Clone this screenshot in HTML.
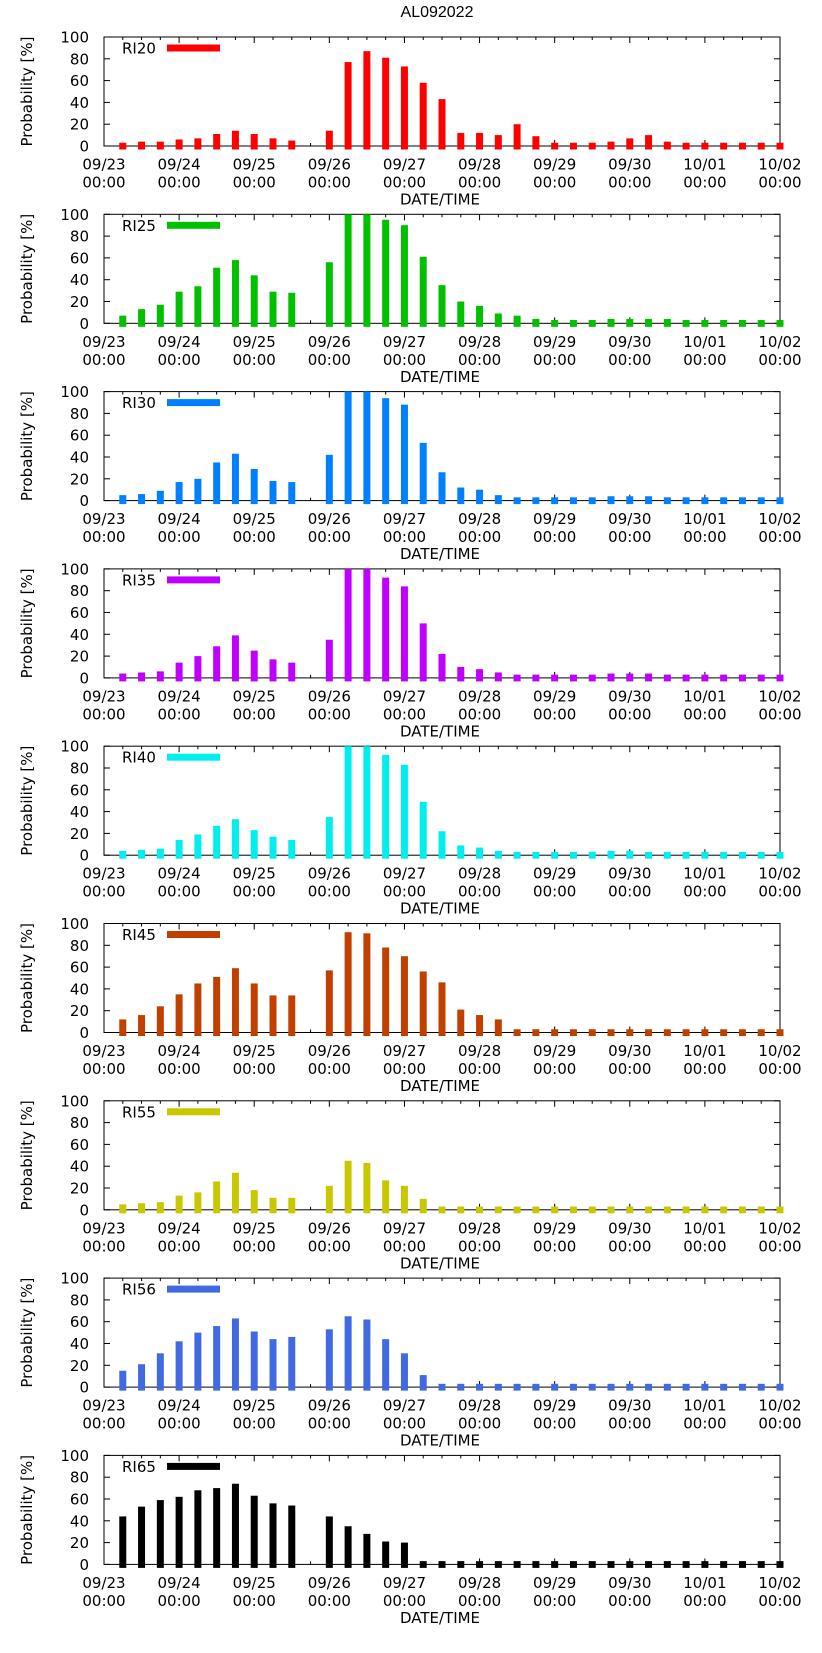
<!DOCTYPE html>
<html><head><meta charset="utf-8"><style>
html,body{margin:0;padding:0;background:#fff}
svg{display:block}
text{font-family:"DejaVu Sans","Liberation Sans",sans-serif;font-size:15px;fill:#000}
</style></head><body>
<svg id="chart" width="822" height="1653" viewBox="0 0 822 1653" xmlns="http://www.w3.org/2000/svg">
<text x="437" y="17" text-anchor="middle" style="font-family:'Liberation Sans',sans-serif;font-size:16px">AL092022</text>
</svg>
<script>
const seriesNames = ["RI20","RI25","RI30","RI35","RI40","RI45","RI55","RI56","RI65"];
const seriesColors = ["#ff0000","#00c000","#0080ff","#c000ff","#00eeee","#c04000","#c8c800","#4169e1","#000000"];
const hoursFromStart = [6,12,18,24,30,36,42,48,54,60,66,72,78,84,90,96,102,108,114,120,126,132,138,144,150,156,162,168,174,180,186,192,198,204,210,216];
const ri20 = [3,4,4,6,7,11,14,11,7,5,null,14,77,87,81,73,58,43,12,12,10,20,9,3,3,3,4,7,10,4,3,3,3,3,3,3];
const ri25 = [7,13,17,29,34,51,58,44,29,28,null,56,100,100,95,90,61,35,20,16,9,7,4,3,3,3,4,4,4,4,3,3,3,3,3,3];
const ri30 = [5,6,9,17,20,35,43,29,18,17,null,42,100,100,94,88,53,26,12,10,5,3,3,3,3,3,4,4,4,3,3,3,3,3,3,3];
const ri35 = [4,5,6,14,20,29,39,25,17,14,null,35,100,100,92,84,50,22,10,8,5,3,3,3,3,3,4,4,4,3,3,3,3,3,3,3];
const ri40 = [4,5,6,14,19,27,33,23,17,14,null,35,100,100,92,83,49,22,9,7,4,3,3,3,3,3,4,4,3,3,3,3,3,3,3,3];
const ri45 = [12,16,24,35,45,51,59,45,34,34,null,57,92,91,78,70,56,46,21,16,12,3,3,3,3,3,3,3,3,3,3,3,3,3,3,3];
const ri55 = [5,6,7,13,16,26,34,18,11,11,null,22,45,43,27,22,10,3,3,3,3,3,3,3,3,3,3,3,3,3,3,3,3,3,3,3];
const ri56 = [15,21,31,42,50,56,63,51,44,46,null,53,65,62,44,31,11,3,3,3,3,3,3,3,3,3,3,3,3,3,3,3,3,3,3,3];
const ri65 = [44,53,59,62,68,70,74,63,56,54,null,44,35,28,21,20,3,3,3,3,3,3,3,3,3,3,3,3,3,3,3,3,3,3,3,3];
const allSeries = [ri20,ri25,ri30,ri35,ri40,ri45,ri55,ri56,ri65];
const dayLabels = ["09/23","09/24","09/25","09/26","09/27","09/28","09/29","09/30","10/01","10/02"];
const yTicks = [0,20,40,60,80,100];

const NS="http://www.w3.org/2000/svg";
const svg=document.getElementById('chart');
const L=104,R=780,PH=109,TOP0=37,STEP=177.3,TOTALH=216;
function xs(h){return L+(R-L)*h/TOTALH;}
function mk(tag,attrs,parent,txt){const e=document.createElementNS(NS,tag);for(const k in attrs)e.setAttribute(k,attrs[k]);if(txt!==undefined)e.textContent=txt;(parent||svg).appendChild(e);return e;}

allSeries.forEach((vals,i)=>{
  const top=TOP0+STEP*i, bot=top+PH;
  const ys=v=>bot-PH*v/100;
  const g=mk('g',{});
  
  
  const f=mk('rect',{x:L,y:top,width:R-L,height:PH,fill:'none',stroke:'#000','stroke-width':1},g);
  
  
  yTicks.forEach(t=>{
    const y=ys(t);
    mk('line',{x1:L,x2:L+6,y1:y,y2:y,stroke:'#000'},g);
    mk('line',{x1:R,x2:R-6,y1:y,y2:y,stroke:'#000'},g);
    const tl=mk('text',{x:89,y:y+5.5,'text-anchor':'end'},g,String(t));
    
    
  });
  for(let h=0;h<=TOTALH;h+=6){
    const x=xs(h), len=(h%24===0)?6:3;
    mk('line',{x1:x,x2:x,y1:top,y2:top+len,stroke:'#000'},g);
    mk('line',{x1:x,x2:x,y1:bot,y2:bot-len,stroke:'#000'},g);
  }
  dayLabels.forEach((d,k)=>{
    const x=xs(k*24);
    const t1=mk('text',{x:x,y:bot+23.5,'text-anchor':'middle'},g,d);
    
    
    const t2=mk('text',{x:x,y:bot+41.5,'text-anchor':'middle'},g,'00:00');
    
    
  });
  const xt=mk('text',{x:440,y:bot+58.5,'text-anchor':'middle'},g,'DATE/TIME');
  
  
  const yt=mk('text',{x:0,y:0,'text-anchor':'middle',transform:'translate(32,'+(top+PH/2)+') rotate(-90)'},g,'Probability [%]');
  
  
  const lt=mk('text',{x:122,y:top+16.5},g,seriesNames[i]);
  
  
  const ls=mk('rect',{x:167,y:top+7.5,width:53,height:7,fill:seriesColors[i]},g);
  
  
  vals.forEach((v,j)=>{
    if(v===null)return;
    const x=xs(hoursFromStart[j]);
    const b=mk('rect',{x:x-3.5,y:ys(v),width:7,height:bot+3.5-ys(v),fill:seriesColors[i]},g);
    
    
  });
});
</script>
</body></html>
